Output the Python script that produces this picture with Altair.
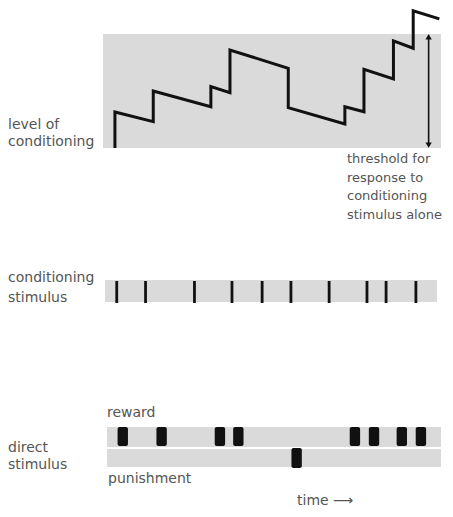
import altair as alt
import pandas as pd

# ---- data ----
# level of conditioning trace (time units, level units where threshold band = 0..100)
line_time = [2.96, 2.96, 14.4, 14.4, 31.6, 31.6, 37.3, 37.3, 54.7, 54.7,
             71.6, 71.6, 77.3, 77.3, 86.1, 86.1, 92.0, 92.0, 99.8]
line_level = [0, 31.6, 23.1, 50.0, 36.2, 53.8, 48.5, 86.0, 69.9, 35.4,
              21.1, 36.2, 31.8, 69.0, 60.5, 93.9, 87.5, 120.4, 113.2]
# conditioning stimulus onsets
cond_times = [3.5, 12.1, 26.7, 37.9, 46.9, 55.5, 66.9, 78.2, 83.9, 92.8]
# direct stimulus events
reward_times = [5.3, 16.9, 34.3, 39.8, 74.6, 80.3, 88.6, 94.3]
punish_times = [57.2]
# threshold band
threshold_low = [0]
threshold_high = [100]
threshold_arrow_time = [96.6]

GRAY = "#dadada"
INK = "#111111"
TXT = "#555555"
FONT = "DejaVu Sans"
FS = 14

x_scale = alt.Scale(domain=[-28.96, 101.49], nice=False, zero=False)
y_scale = alt.Scale(domain=[-316.7, 122.8], nice=False, zero=False)
X = lambda f: alt.X(f, type="quantitative", scale=x_scale, axis=None)

line_df = pd.DataFrame({"t": line_time, "level": line_level, "i": range(len(line_time))})
band_df = pd.DataFrame({"t0": [-0.6], "t1": [100.3], "lo": threshold_low, "hi": threshold_high})
cond_df = pd.DataFrame({"t": cond_times})
rew_df = pd.DataFrame({"t": reward_times})
pun_df = pd.DataFrame({"t": punish_times})
arrow_df = pd.DataFrame({"t": threshold_arrow_time, "lo": threshold_low, "hi": threshold_high})
strip_df = pd.DataFrame({"t0": [0.0], "t1": [99.1]})
strip2_df = pd.DataFrame({"t0": [0.6], "t1": [100.3]})

band = alt.Chart(band_df).mark_rect(color=GRAY).encode(
    x=X("t0"), x2="t1",
    y=alt.Y("lo:Q", scale=y_scale, axis=None), y2="hi:Q")

trace = alt.Chart(line_df).mark_line(color=INK, strokeWidth=3, strokeJoin="miter").encode(
    x=X("t"), y=alt.Y("level:Q", scale=y_scale, axis=None), order="i:Q")

arrow_shaft = alt.Chart(arrow_df).transform_calculate(
    a="datum.lo + 3", b="datum.hi - 3").mark_rule(color=INK, strokeWidth=1.6).encode(
    x=X("t"), y=alt.Y("a:Q", scale=y_scale, axis=None), y2="b:Q")
arrow_top = alt.Chart(arrow_df).transform_calculate(p="datum.hi - 2.5").mark_point(
    shape="triangle-up", filled=True, color=INK, size=40, opacity=1).encode(
    x=X("t"), y=alt.Y("p:Q", scale=y_scale, axis=None))
arrow_bot = alt.Chart(arrow_df).transform_calculate(p="datum.lo + 2.5").mark_point(
    shape="triangle-down", filled=True, color=INK, size=40, opacity=1).encode(
    x=X("t"), y=alt.Y("p:Q", scale=y_scale, axis=None))

cond_strip = alt.Chart(strip_df).mark_rect(color=GRAY).encode(
    x=X("t0"), x2="t1", y=alt.value(272), y2=alt.value(294))
cond_ticks = alt.Chart(cond_df).mark_rule(color=INK, strokeWidth=2.8).encode(
    x=X("t"), y=alt.value(273), y2=alt.value(295))

rew_strip = alt.Chart(strip2_df).mark_rect(color=GRAY).encode(
    x=X("t0"), x2="t1", y=alt.value(419), y2=alt.value(439))
pun_strip = alt.Chart(strip2_df).mark_rect(color=GRAY).encode(
    x=X("t0"), x2="t1", y=alt.value(441), y2=alt.value(459))
rew_bars = alt.Chart(rew_df).transform_calculate(a="datum.t - 1.55", b="datum.t + 1.55").mark_rect(
    color=INK, cornerRadius=2).encode(x=X("a"), x2="b", y=alt.value(419), y2=alt.value(438))
pun_bars = alt.Chart(pun_df).transform_calculate(a="datum.t - 1.55", b="datum.t + 1.55").mark_rect(
    color=INK, cornerRadius=2).encode(x=X("a"), x2="b", y=alt.value(440), y2=alt.value(460))

def label(txt, x, y, lh=17, fs=FS):
    return alt.Chart(pd.DataFrame({"d": [0]})).mark_text(
        text=txt, align="left", baseline="alphabetic", font=FONT, fontSize=fs,
        color=TXT, lineHeight=lh).encode(x=alt.value(x), y=alt.value(y))

labels = [
    label(["level of", "conditioning"], 0, 121, 17),
    label(["threshold for", "response to", "conditioning", "stimulus alone"], 339, 155, 18.5, 13),
    label(["conditioning", "stimulus"], 0, 274, 20),
    label("reward", 99, 409),
    label(["direct", "stimulus"], 0, 444, 16.5),
    label("punishment", 100, 475),
    label("time \u27f6", 289, 497),
]

chart = alt.layer(band, trace, arrow_shaft, arrow_top, arrow_bot,
                  cond_strip, cond_ticks, rew_strip, pun_strip, rew_bars, pun_bars,
                  *labels).properties(
    width=437, height=501, padding=0, autosize=alt.AutoSizeParams(type="none"),
    background="white"
).configure_view(stroke=None)

chart.save("out.html", embed_options={"renderer": "svg", "actions": False})
